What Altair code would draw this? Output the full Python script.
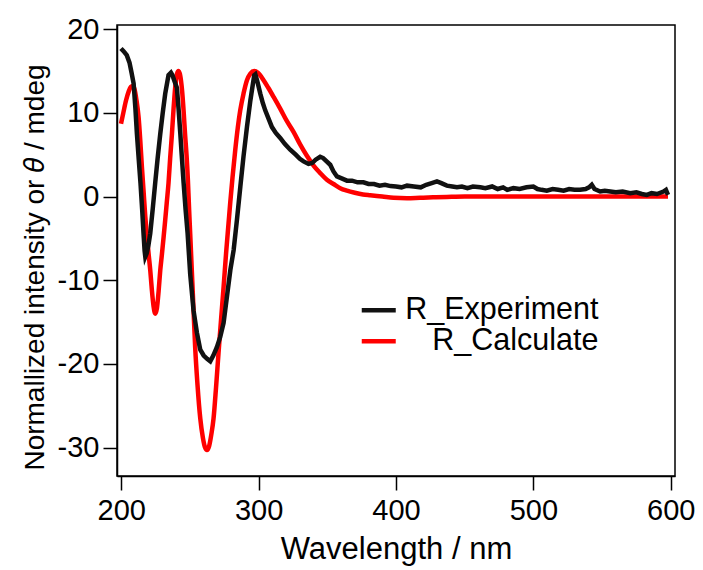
import altair as alt
import pandas as pd

# ---- data ----
exp_wl = [199.8, 201.5, 204, 206, 207.5, 209, 210.3, 211.4, 212.7, 214, 215.2, 216.2, 217, 217.5,
          218.5, 219.8, 221.1, 222.9, 224.7, 226.5, 228.4, 230.2, 232, 234.4, 236.2, 237.3, 238.5,
          240.5, 241.8, 243, 244.2, 245.4, 246.8, 248.3, 250.2, 252.6, 255.1, 257.5, 260, 262.5,
          264.8, 267, 269.6, 272, 274.5, 276.9, 279.4, 281.8, 284.2, 286.7, 289, 291.5, 294, 296.8,
          297.6, 299, 301.2, 303, 304.8, 307, 309.7, 312.5, 315.7, 319, 323, 327, 330, 332.7, 336.3,
          339, 341.5, 344.8, 347, 349.5, 352.1, 354.5, 357, 360, 364.3, 368, 372, 376.3, 380, 384,
          388, 392, 396, 400, 404, 408, 413, 418, 422, 426, 429.8, 433, 437, 441, 444.4, 448, 452,
          456, 461.4, 465, 470, 474, 478, 481, 485.5, 490, 495, 500, 503, 506, 509.8, 514, 518, 522,
          526, 530, 534, 538, 540.5, 542.5, 544.5, 548.6, 552, 556, 560, 565, 570.5, 575, 579,
          582.6, 586, 590, 594.7, 596.5, 598]
exp_val = [17.7, 17.4, 16.9, 16.0, 14.8, 13.5, 10.5, 7.5, 4.5, 1.6, -1.5, -4.4, -6.5, -7.2,
           -6.8, -5.8, -4.4, -1.5, 1.6, 4.6, 7.5, 10.0, 12.3, 14.5, 14.8, 14.5, 13.9,
           13.0, 10.3, 7.5, 4.5, 1.6, -1.5, -4.4, -9.3, -13.6, -16.3, -18.3, -19.0, -19.4,
           -19.7, -19.0, -18.0, -16.8, -15.1, -12.0, -8.8, -6.4, -2.8, 1.2, 4.8, 8.3, 11.5, 14.5,
           14.6, 13.8, 12.3, 11.2, 10.3, 9.4, 8.3, 7.6, 7.0, 6.3, 5.6, 5.0, 4.5, 4.2, 3.9,
           4.0, 4.4, 4.75, 4.6, 4.2, 3.8, 3.0, 2.4, 2.2, 1.9, 1.9, 1.7, 1.7, 1.5, 1.5,
           1.3, 1.4, 1.25, 1.2, 1.1, 1.3, 1.2, 1.1, 1.4, 1.6, 1.8, 1.6, 1.3, 1.2, 1.1, 1.2, 1.0,
           1.2, 1.1, 1.0, 1.2, 0.9, 1.1, 0.8, 1.0, 0.9, 1.1, 1.2, 0.9, 0.8, 0.7, 0.9, 0.8, 0.7,
           0.9, 0.8, 0.8, 0.9, 1.1, 1.4, 0.9, 0.6, 0.7, 0.6, 0.5, 0.6, 0.4, 0.5, 0.3,
           0.2, 0.4, 0.3, 0.6, 0.8, 0.2]

calc_wl = [199.8, 201.5, 203.5, 205.5, 207, 208.2, 209.5, 211, 212.6, 213.8, 215, 216.3, 217.5,
           218.7, 220, 221.1, 222.3, 223.5, 224.7, 226, 227.2, 228.4, 229.6, 230.8, 232, 233.2,
           234.4, 235.6, 236.9, 238, 239.3, 240.5, 241.7, 243, 244.2, 245.4, 246.5, 247.5, 248.5,
           249.4, 250.2, 251.4, 252.6, 253.8, 255.5, 257.5, 259.5, 261, 262.4, 264, 265.5, 267.2,
           269, 270.8, 272.6, 274.5, 276.3, 278.1, 279.3, 281, 283, 284.8, 286.6, 289, 291.5, 294,
           296.8, 299.5, 303.6, 307, 310.9, 315.7, 320.6, 325.5, 330.3, 335, 340, 344.8, 349.7,
           354.5, 359.4, 364.3, 370, 376, 381.2, 390, 398.2, 408, 417.5, 427, 437, 450, 480, 520,
           560, 598]
calc_val = [8.7, 10.0, 11.5, 12.6, 13.1, 13.2, 12.9, 11.6, 9.5, 6.8, 3.6, 0.5, -2.4,
            -4.8, -7.0, -8.8, -11.2, -13.1, -14.0, -13.3, -11.3, -8.8, -6.9, -4.9, -2.8, -0.6,
            1.6, 4.6, 7.5, 10.3, 13.1, 14.6, 15.0, 14.4, 12.8, 10.2, 7.3, 5.0, 2.0,
            -1.6, -4.5, -9.0, -13.5, -18.0, -22.5, -26.5, -28.9, -30.0, -30.3, -29.8, -28.5, -26.5,
            -22.8, -18.7, -14.8, -10.8, -6.8, -3.2, -0.8, 2.3, 5.6, 8.2, 10.3, 12.3, 13.9, 14.7,
            15.0, 14.8, 13.9, 13.0, 11.9, 10.5, 9.0, 7.7, 6.2, 4.9, 3.7, 2.8, 2.0,
            1.5, 1.0, 0.7, 0.45, 0.25, 0.15, 0.0, -0.15, -0.2, -0.15, -0.1, -0.05, 0.0, 0.0, 0.0,
            0.0, 0.0]

series_names = ["R_Experiment", "R_Calculate"]
series_colors = ["#111111", "#ff0000"]
x_ticks = [200, 300, 400, 500, 600]
y_ticks = [-30, -20, -10, 0, 10, 20]

exp_df = pd.DataFrame({"wl": exp_wl, "val": exp_val, "series": series_names[0], "order": range(len(exp_wl))})
calc_df = pd.DataFrame({"wl": calc_wl, "val": calc_val, "series": series_names[1], "order": range(len(calc_wl))})

FONT = "Liberation Sans"

x_enc = alt.X("wl:Q", scale=alt.Scale(domain=[196.9, 603.1], nice=False, zero=False),
              axis=alt.Axis(values=x_ticks, title="Wavelength / nm", titlePadding=9,
                            labelExpr="datum.value + ''"))
y_enc = alt.Y("val:Q", scale=alt.Scale(domain=[-33.4, 20.5], nice=False, zero=False),
              axis=alt.Axis(values=y_ticks, title="Normallized intensity or 𝜃 / mdeg", titlePadding=8,
                            titleY=242, labelExpr="datum.value + ''"))
color_enc = alt.Color("series:N",
                      scale=alt.Scale(domain=series_names, range=series_colors),
                      sort=series_names,
                      legend=alt.Legend(title=None, orient="none", legendX=246.5, legendY=270,
                                        symbolType="M-2,0H2", symbolStrokeWidth=4.5, symbolSize=289,
                                        labelFontSize=30.5, labelFont=FONT, labelColor="black",
                                        labelAlign="right",
                                        labelOffset=204.5, rowPadding=0, labelLimit=0))

exp_line = alt.Chart(exp_df).mark_line(strokeWidth=4.5, interpolate="linear").encode(
    x=x_enc, y=y_enc, color=color_enc, order="order:Q")
calc_line = alt.Chart(calc_df).mark_line(strokeWidth=4.5, interpolate="monotone").encode(
    x=x_enc, y=y_enc, color=color_enc, order="order:Q")

chart = alt.layer(calc_line, exp_line).properties(
    width=558, height=451,
    autosize=alt.AutoSizeParams(type="none"),
    padding={"left": 117, "top": 25, "right": 28, "bottom": 94},
).configure_view(stroke="black", strokeWidth=1.5).configure_axis(
    grid=False, domainColor="black", domainWidth=1.5, tickColor="black", tickWidth=1.5,
    tickSize=14, labelFont=FONT, labelFontSize=29, labelColor="black", labelPadding=4,
    titleFont=FONT, titleFontWeight="normal", titleColor="black",
).configure_axisX(titleFontSize=31, labelPadding=6).configure_axisY(titleFontSize=28)

chart.save("out.html", embed_options={"renderer": "svg", "actions": False})
